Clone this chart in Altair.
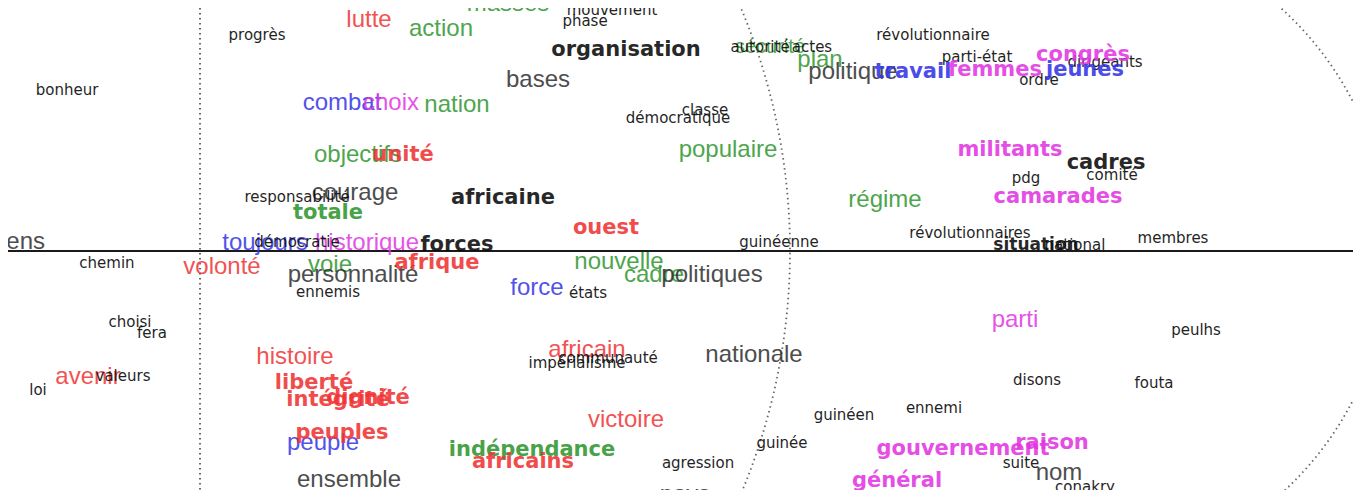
import altair as alt
import numpy as np
import pandas as pd

# ---- words of the factorial plane ----
words = ["bonheur", "progrès", "lutte", "action", "masses", "mouvement", "phase", "organisation", "bases", "combat",
         "choix", "nation", "objectifs", "unité", "démocratique", "classe", "populaire", "autorité", "sécurité", "actes",
         "plan", "politique", "révolutionnaire", "travail", "parti-état", "congrès", "femmes", "jeunes", "ordre", "dirigeants",
         "militants", "cadres", "pdg", "comité", "camarades", "régime", "révolutionnaires", "situation", "national", "membres",
         "parti", "peulhs", "disons", "fouta", "ennemi", "gouvernement", "raison", "suite", "nom", "conakry",
         "général", "moyens", "chemin", "volonté", "responsabilité", "courage", "totale", "toujours", "démocratie", "historique",
         "forces", "voie", "personnalité", "ennemis", "afrique", "choisi", "fera", "africaine", "ouest", "guinéenne",
         "nouvelle", "cadre", "politiques", "force", "états", "avenir", "valeurs", "loi", "histoire", "liberté",
         "intégrité", "dignité", "peuples", "peuple", "ensemble", "africain", "impérialisme", "communauté", "nationale", "victoire",
         "indépendance", "africains", "agression", "guinéen", "guinée", "pays"]

factor1 = [-1.33, 0.57, 1.69, 2.41, 3.08, 4.12, 3.85, 4.26, 3.38, 1.42,
           1.91, 2.57, 1.58, 2.03, 4.78, 5.05, 5.28, 5.60, 5.70, 6.12,
           6.20, 6.53, 7.33, 7.13, 7.77, 8.83, 7.95, 8.85, 8.39, 9.05,
           8.10, 9.06, 8.26, 9.12, 8.58, 6.85, 7.70, 8.36, 8.75, 9.73,
           8.15, 9.96, 8.37, 9.54, 7.34, 7.63, 8.52, 8.21, 8.59, 8.85,
           6.97, -1.97, -0.93, 0.22, 0.97, 1.55, 1.28, 0.65, 0.97, 1.67,
           2.57, 1.30, 1.53, 1.28, 2.37, -0.70, -0.48, 3.03, 4.06, 5.79,
           4.19, 4.54, 5.12, 3.37, 3.88, -1.12, -0.77, -1.62, 0.95, 1.14,
           1.38, 1.68, 1.42, 1.23, 1.49, 3.87, 3.77, 4.08, 5.54, 4.26,
           3.32, 3.23, 4.98, 6.44, 5.82, 4.85]

factor2 = [1.61, 2.16, 2.31, 2.22, 2.47, 2.41, 2.30, 2.01, 1.71, 1.48,
           1.48, 1.46, 0.96, 0.96, 1.33, 1.41, 1.01, 2.04, 2.04, 2.04,
           1.91, 1.79, 2.16, 1.79, 1.94, 1.96, 1.81, 1.81, 1.71, 1.89,
           1.01, 0.88, 0.73, 0.76, 0.54, 0.51, 0.18, 0.06, 0.06, 0.13,
           -0.69, -0.79, -1.29, -1.32, -1.57, -1.98, -1.92, -2.12, -2.22, -2.36,
           -2.30, 0.09, -0.12, -0.16, 0.54, 0.58, 0.38, 0.08, 0.09, 0.08,
           0.06, -0.14, -0.24, -0.41, -0.12, -0.71, -0.82, 0.53, 0.23, 0.09,
           -0.11, -0.24, -0.24, -0.37, -0.42, -1.26, -1.25, -1.39, -1.06, -1.32,
           -1.49, -1.47, -1.82, -1.92, -2.29, -0.99, -1.12, -1.07, -1.04, -1.69,
           -1.99, -2.11, -2.12, -1.64, -1.92, -2.44]

# k = black, d = dark grey, r = red, g = green, b = blue, m = magenta
groups = ["k", "k", "r", "g", "g", "k", "k", "k", "d", "b",
          "m", "g", "g", "r", "k", "k", "g", "k", "g", "k",
          "g", "d", "k", "b", "k", "m", "m", "b", "k", "k",
          "m", "k", "k", "k", "m", "g", "k", "k", "k", "k",
          "m", "k", "k", "k", "k", "m", "m", "k", "d", "k",
          "m", "d", "k", "r", "k", "d", "g", "b", "k", "m",
          "k", "g", "d", "k", "r", "k", "k", "k", "r", "k",
          "g", "g", "d", "b", "k", "r", "k", "k", "r", "r",
          "r", "r", "r", "b", "d", "r", "k", "k", "d", "r",
          "g", "r", "k", "k", "k", "d"]

# s = small text, l = light large text, b = bold text
styles = ["s", "s", "l", "l", "l", "s", "s", "b", "l", "l",
          "l", "l", "l", "b", "s", "s", "l", "s", "l", "s",
          "l", "l", "s", "b", "s", "b", "b", "b", "s", "s",
          "b", "b", "s", "s", "b", "l", "s", "b", "s", "s",
          "l", "s", "s", "s", "s", "b", "b", "s", "l", "s",
          "b", "l", "s", "l", "s", "l", "b", "l", "s", "l",
          "b", "l", "l", "s", "b", "s", "s", "b", "b", "s",
          "l", "l", "l", "l", "s", "l", "s", "s", "l", "b",
          "b", "b", "b", "l", "l", "l", "s", "s", "l", "l",
          "b", "b", "s", "s", "s", "l"]

style_size = {"s": 15, "l": 24, "b": 21}
size_override = {"situation": 17, "sécurité": 20}

group_names = ["k", "d", "r", "g", "b", "m"]
group_colors = ["#0a0a0a", "#2e2e2e", "#f03434", "#2f962f", "#3434e6", "#e236e2"]

# dotted reference arcs (centre on factor 1, radius); right-hand halves only
circle_cx = [-0.36, 8.62]
circle_r = [6.26, 3.27]

df = pd.DataFrame({"word": words, "f1": factor1, "f2": factor2,
                   "group": groups, "style": styles})
df["size"] = [size_override.get(w, style_size[s]) for w, s in zip(words, styles)]

rows = []
theta = np.linspace(-np.pi / 2, np.pi / 2, 361)
for cid, (cx, r) in enumerate(zip(circle_cx, circle_r)):
    for i, t in enumerate(theta):
        rows.append({"cid": cid, "idx": i, "f1": cx + r * np.cos(t), "f2": r * np.sin(t)})
circ = pd.DataFrame(rows)

xs = alt.Scale(domain=[-1.92, 11.53], nice=False, zero=False)
ys = alt.Scale(domain=[-2.39, 2.43], nice=False, zero=False)

X = alt.X("f1:Q", scale=xs, axis=None)
Y = alt.Y("f2:Q", scale=ys, axis=None)

circles = alt.Chart(circ).mark_line(
    clip=True, color="#666666", strokeWidth=1.8, strokeDash=[1.5, 3.5]
).encode(x=X, y=Y, detail="cid:N", order="idx:Q")

vline = alt.Chart(pd.DataFrame({"f1": [0.0]})).mark_rule(
    color="#555555", strokeWidth=1.8, strokeDash=[1.5, 3.5]
).encode(x=X)

hline = alt.Chart(pd.DataFrame({"f2": [0.0]})).mark_rule(
    color="#1a1a1a", strokeWidth=2.2
).encode(y=Y)

base = alt.Chart(df).encode(
    x=X, y=Y, text="word:N",
    color=alt.Color("group:N", scale=alt.Scale(domain=group_names, range=group_colors), legend=None),
    size=alt.Size("size:Q", scale=None),
)

small = base.transform_filter(alt.datum.style == "s").mark_text(
    font="DejaVu Sans", align="center", baseline="middle", opacity=0.9, clip=True)
light = base.transform_filter(alt.datum.style == "l").mark_text(
    font="Liberation Sans", align="center", baseline="middle", opacity=0.85, clip=True)
bold = base.transform_filter(alt.datum.style == "b").mark_text(
    font="DejaVu Sans", fontWeight="bold", align="center", baseline="middle", opacity=0.88, clip=True)

chart = alt.layer(circles, vline, hline, light, small, bold).properties(
    width=1345, height=482,
    autosize=alt.AutoSizeParams(type="none"),
    padding=0,
    background="white",
).configure_view(stroke=None)

chart.save("out.html", embed_options={"renderer": "svg", "actions": False})
